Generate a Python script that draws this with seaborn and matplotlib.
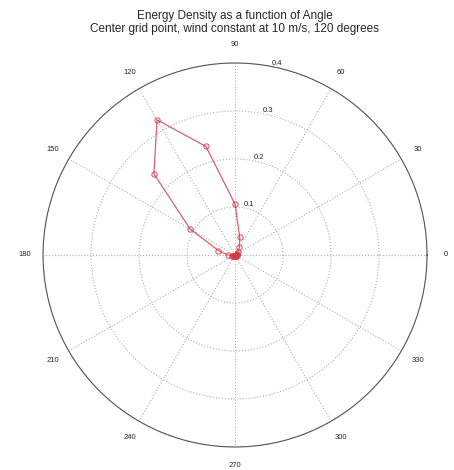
import numpy as np
import pandas as pd
import matplotlib
matplotlib.use("Agg")
import matplotlib.pyplot as plt
import seaborn as sns

# angle (degrees) and energy density
angles = [0, 15, 30, 45, 60, 75, 90, 105, 120, 135, 150, 165,
          180, 195, 210, 225, 240, 255, 270, 285, 300, 315, 330, 345]
density = [0.004, 0.003, 0.005, 0.008, 0.018, 0.038, 0.106, 0.234, 0.325, 0.239, 0.108, 0.036,
           0.015, 0.006, 0.004, 0.003, 0.003, 0.002, 0.002, 0.002, 0.003, 0.003, 0.003, 0.004]
theta_ticks = list(range(0, 360, 30))
r_ticks = [0.1, 0.2, 0.3, 0.4]

title = "Energy Density as a function of Angle\nCenter grid point, wind constant at 10 m/s, 120 degrees"

sns.set_style("white")
plt.rcParams['font.family'] = ['Liberation Sans', 'DejaVu Sans']

# close the curve
df = pd.DataFrame({
    "theta": np.deg2rad(angles + angles[:1]),
    "r": density + density[:1],
})

fig = plt.figure(figsize=(4.54, 4.70), dpi=100)
ax = fig.add_axes([0.0947, 0.049, 0.846, 0.817], projection="polar")

sns.lineplot(data=df, x="theta", y="r", sort=False, ax=ax, color="#d03a48",
             linewidth=0.9, alpha=0.8, marker="o", markersize=3.8,
             markerfacecolor="none", markeredgecolor="#d03a48", markeredgewidth=0.8)

ax.set_ylim(0, 0.4)
ax.set_thetagrids(theta_ticks, [str(t) for t in theta_ticks], fontsize=5.5)
ax.set_rgrids(r_ticks, [str(r) for r in r_ticks], angle=79, fontsize=5.5)
ax.tick_params(axis="x", pad=3)
ax.grid(True, linestyle=":", color="#b0b0b0", linewidth=0.8)
ax.spines["polar"].set_color("#555555")
ax.spines["polar"].set_linewidth(0.8)
ax.set_xlabel("")
ax.set_ylabel("")

fig.suptitle(title, fontsize=8.5, y=0.978, x=0.517, linespacing=1.1)

fig.savefig("out.png", dpi=100)
